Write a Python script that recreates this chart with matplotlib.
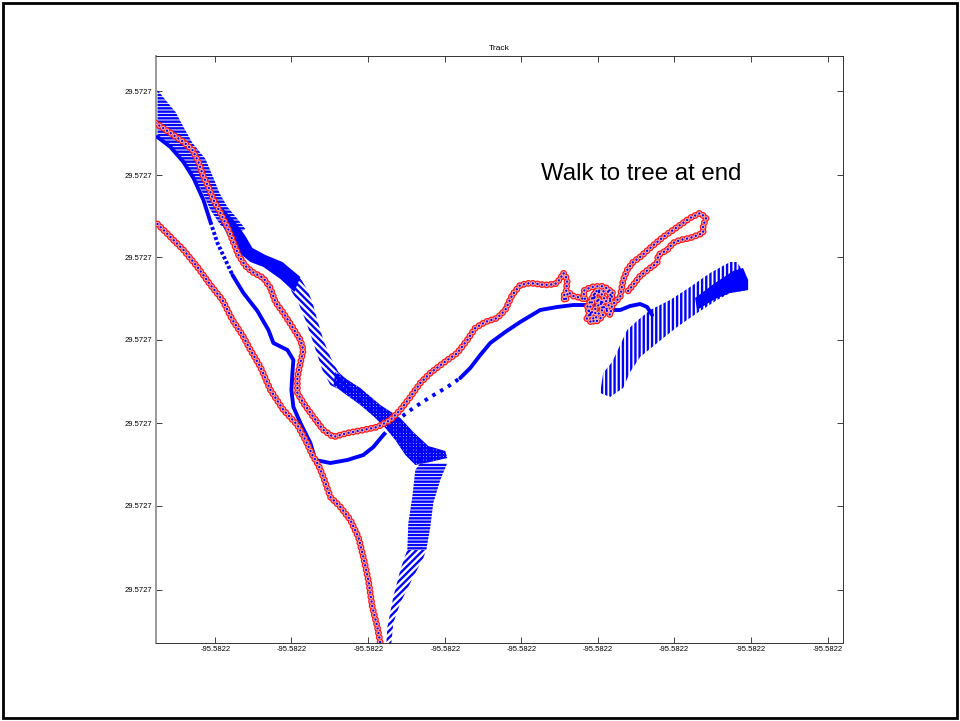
import matplotlib
matplotlib.use('Agg')
import matplotlib.pyplot as plt
import matplotlib.patheffects as pe
from matplotlib.patches import Polygon, Rectangle
import numpy as np

plt.rcParams['font.family'] = ['Liberation Sans', 'DejaVu Sans']
plt.rcParams['lines.scale_dashes'] = False
plt.rcParams['hatch.linewidth'] = 1.7

# ---------------- data (local east/north offsets) ----------------
title = "Track"
note = "Walk to tree at end"
x_ticks = [60, 136, 213, 290, 366, 443, 519, 596, 673]
x_tick_labels = ['-95.5822', '-95.5822', '-95.5822', '-95.5822', '-95.5822',
                 '-95.5822', '-95.5822', '-95.5822', '-95.5822']
y_ticks = [53, 137, 220, 303, 386, 468, 552]
y_tick_labels = ['29.5727', '29.5727', '29.5727', '29.5727', '29.5727',
                 '29.5727', '29.5727']

# red-circle track A (lower-left)
red_a_east = [2, 15, 28, 42, 55, 67, 77, 87, 95, 105, 115, 128, 142, 150, 157, 163,
              168, 175, 185, 195, 203, 208, 213, 217, 222, 225]
red_a_north = [419, 406, 393, 376, 358, 343, 323, 308, 293, 276, 253, 233, 218, 203, 188,
               178, 166, 146, 136, 123, 106, 86, 63, 36, 16, 0]

# red-circle track B (upper, to the tree)
red_b_east = [0, 15, 28, 37, 43, 48, 53, 58, 65, 72, 77, 83, 90, 97, 108, 115, 120, 128,
              137, 145, 148, 145, 142, 142, 148, 158, 168, 178, 192, 208, 222, 235, 245,
              255, 265, 275, 288, 302, 312, 320, 330, 342, 350, 357, 365, 375, 390, 400,
              405, 408, 410, 412, 411, 408, 410, 413, 418, 426,
              430, 428, 436, 446, 454, 456, 448, 438, 432, 436, 442, 448, 446, 452, 455,
              458, 450, 440, 433, 444, 437, 431, 441, 449, 443, 437, 447, 455, 457,
              462, 465, 468, 472, 478, 485, 495, 508, 518, 525, 535, 545, 551,
              548, 548, 535, 525, 518, 512, 503, 502, 495, 485, 478, 472]
red_b_north = [520, 510, 501, 493, 481, 466, 456, 443, 430, 416, 403, 388, 377, 371, 365,
               355, 341, 330, 316, 303, 293, 280, 266, 250, 240, 226, 213, 206, 210, 213,
               216, 223, 233, 246, 260, 270, 280, 290, 303, 315, 321, 325, 333, 348, 358,
               360, 358, 359,
               364, 370, 368, 362, 352, 346, 342, 351, 347, 345,
               343, 352, 356, 357, 354, 345, 340, 347, 336, 326, 322, 327, 336, 334, 342,
               350, 352, 350, 330, 330, 320, 325, 335, 345, 354, 346, 338, 328, 338,
               343, 346, 363, 373, 381, 386, 395, 406, 413, 418, 425, 430, 425,
               417, 410, 405, 403, 400, 393, 388, 380, 375, 367, 358, 351]

# blue dense track C (dense / sparse sections)
blue_c1_east = [2, 15, 28, 38, 48, 55]
blue_c1_north = [506, 496, 481, 465, 443, 421]
blue_c1b_east = [55, 62, 70, 77]
blue_c1b_north = [421, 400, 383, 368]
blue_c1c_east = [77, 88, 102, 113, 118, 132, 138, 137, 136, 138, 145, 155, 160, 175, 192,
                 208, 218, 228]
blue_c1c_north = [368, 350, 332, 313, 300, 293, 283, 270, 253, 236, 220, 200, 183, 180,
                  183, 188, 196, 208]
blue_c2_east = [228, 242, 258, 275, 292, 305]
blue_c2_north = [208, 223, 235, 246, 256, 265]
blue_c3_east = [305, 315, 325, 335, 350, 365, 385, 402, 418, 435, 445, 455, 465, 475,
                485, 492, 497]
blue_c3_north = [265, 275, 288, 300, 311, 321, 333, 336, 338, 338, 336, 333, 333, 337,
                 339, 336, 328]

# blue point-cloud bands (outlines)
band_t1_east = [2, 10, 20, 28, 37, 50, 58, 64, 72, 82, 90, 80, 65, 55, 45, 35, 25, 13, 2]
band_t1_north = [553, 543, 531, 516, 500, 484, 465, 450, 436, 424, 414, 408, 418, 433,
                 455, 470, 485, 497, 505]
ribbon_east = [67, 80, 90, 97, 110, 127, 145, 139, 125, 108, 95, 85, 75, 65]
ribbon_north = [435, 421, 407, 395, 388, 381, 366, 351, 364, 376, 381, 389, 403, 421]
band_t2_east = [145, 152, 157, 162, 168, 175, 183, 195, 190, 175, 167, 163, 157, 150, 143,
                136, 133]
band_t2_north = [365, 353, 341, 323, 303, 286, 271, 260, 250, 258, 273, 285, 303, 323,
                 340, 352, 360]
band_t3_east = [180, 205, 225, 245, 258, 273, 290, 292, 275, 260, 250, 240, 230, 220,
                205, 187, 178]
band_t3_north = [271, 255, 238, 225, 211, 197, 192, 185, 181, 178, 188, 203, 215, 225,
                 238, 251, 258]
band_t4a_east = [265, 292, 285, 278, 275, 271, 252, 253, 257, 260]
band_t4a_north = [180, 180, 163, 140, 116, 93, 93, 120, 146, 173]
band_t4b_east = [252, 271, 268, 258, 245, 238, 236, 231, 232, 238, 245, 249]
band_t4b_north = [93, 93, 85, 66, 40, 20, 0, 0, 16, 46, 73, 85]
band_r_east = [445, 448, 457, 465, 472, 483, 495, 515, 535, 555, 575, 582, 593, 593, 575,
               562, 542, 522, 502, 485, 475, 468, 455]
band_r_north = [250, 270, 281, 298, 313, 323, 333, 343, 356, 370, 381, 381, 363, 353, 350,
                343, 330, 316, 300, 286, 271, 255, 246]
band_r_tip_east = [540, 560, 578, 588, 593, 593, 575, 560, 542]
band_r_tip_north = [345, 360, 372, 375, 363, 353, 350, 344, 333]

# ---------------- figure ----------------
fig = plt.figure(figsize=(9.6, 7.21), dpi=100)
ax = fig.add_axes([155.5 / 960, 1 - 643 / 721, 687.5 / 960, 587 / 721])
ax.set_xlim(0, 688)
ax.set_ylim(0, 587)

BLUE = '#0000ff'


def add_band(east, north, hatch):
    ax.add_patch(Polygon(np.column_stack([east, north]), closed=True,
                         facecolor='none', edgecolor=BLUE, lw=0, hatch=hatch, zorder=2))


add_band(band_t1_east, band_t1_north, '-----')
add_band(ribbon_east, ribbon_north, '++++++')
add_band(band_t2_east, band_t2_north, '\\\\\\\\\\')
add_band(band_t3_east, band_t3_north, '+++++')
add_band(band_t4a_east, band_t4a_north, '-----')
add_band(band_t4b_east, band_t4b_north, '/////')
add_band(band_r_east, band_r_north, '||||')
add_band(band_r_tip_east, band_r_tip_north, '++++++')

# dense blue track
dense = dict(color=BLUE, lw=2.8, solid_joinstyle='round', solid_capstyle='round', zorder=3)
ax.plot(blue_c1_east, blue_c1_north, **dense)
ax.plot(blue_c1b_east, blue_c1b_north, color=BLUE, lw=2.8, linestyle=(0, (2.2, 1.6)),
        zorder=3)
ax.plot(blue_c1c_east, blue_c1c_north, **dense)
ax.plot(blue_c2_east, blue_c2_north, color=BLUE, lw=2.8, linestyle=(0, (2.5, 4)),
        zorder=3)
ax.plot(blue_c3_east, blue_c3_north, **dense)

# red circle tracks with blue centre points
ring_effects = [pe.Stroke(linewidth=5.0, foreground='#ff1a1a'),
                pe.Stroke(linewidth=3.2, foreground='#ffb0b0'),
                pe.Stroke(linewidth=1.7, foreground=BLUE)]
for e, n in [(red_a_east, red_a_north), (red_b_east, red_b_north)]:
    ln, = ax.plot(e, n, color='red', lw=1, linestyle=(0, (0.01, 3.3)),
                  dash_capstyle='round', dash_joinstyle='round', zorder=4)
    ln.set_path_effects(ring_effects)

ax.text(386, 469, note, fontsize=17.3, ha='left', va='center', color='black', zorder=5)

ax.set_title(title, fontsize=6, pad=4)
ax.set_xticks(x_ticks)
ax.set_xticklabels(x_tick_labels)
ax.set_yticks(y_ticks)
ax.set_yticklabels(y_tick_labels)
ax.tick_params(direction='in', length=4.3, width=0.6, labelsize=5.5, top=True,
               right=True, pad=2.5, colors='#222222', labelcolor='black')
for s in ['top', 'right', 'bottom']:
    ax.spines[s].set_color('#333333')
    ax.spines[s].set_linewidth(0.7)
ax.spines['left'].set_color('#999999')
ax.spines['left'].set_linewidth(1.4)

fig.add_artist(Rectangle((3 / 960, 3 / 721), 954 / 960, 715 / 721,
                         transform=fig.transFigure, fill=False, lw=2, ec='black'))

fig.savefig('out.png', dpi=100)
